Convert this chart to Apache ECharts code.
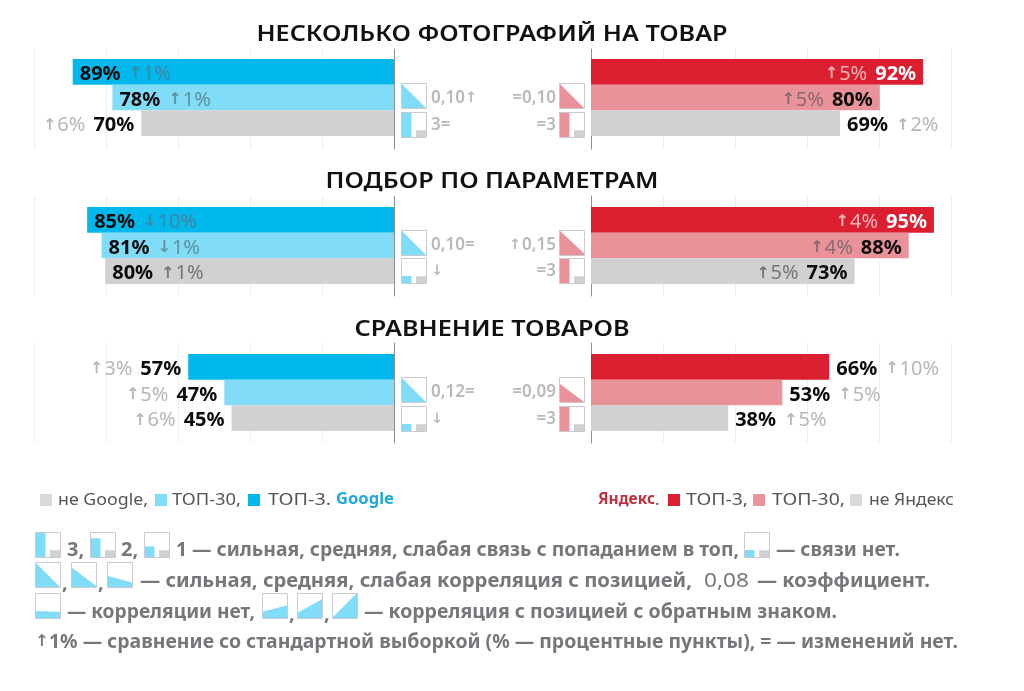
<!DOCTYPE html>
<html><head><meta charset="utf-8">
<style>html,body{margin:0;padding:0;background:#fff}#c{width:1024px;height:691px}</style>
<script src="https://cdn.jsdelivr.net/npm/echarts@6/dist/echarts.min.js"></script>
</head><body><div id="c"></div>
<script>
const FONT = '"Noto Sans","Open Sans",sans-serif';
const ARROW_FONT = '"DejaVu Sans",sans-serif';
const panelTitles = ['НЕСКОЛЬКО ФОТОГРАФИЙ НА ТОВАР', 'ПОДБОР ПО ПАРАМЕТРАМ', 'СРАВНЕНИЕ ТОВАРОВ'];
const categories = ['ТОП-3', 'ТОП-30', 'не в поиске'];
const googleValues = [[89, 78, 70], [85, 81, 80], [57, 47, 45]];
const yandexValues = [[92, 80, 69], [95, 88, 73], [66, 53, 38]];
const googleDeltas = [['↑1%', '↑1%', '↑6%'], ['↓10%', '↓1%', '↑1%'], ['↑3%', '↑5%', '↑6%']];
const yandexDeltas = [['↑5%', '↑5%', '↑2%'], ['↑4%', '↑4%', '↑5%'], ['↑10%', '↑5%', '↑5%']];
const googleInside = [[true, true, false], [true, true, true], [false, false, false]];
const yandexInside = [[true, true, false], [true, true, true], [false, false, false]];
const googleColors = ['#00b8ec', '#80dcf7', '#d2d1d2'];
const yandexColors = ['#dc1f30', '#ea929a', '#d2d1d2'];
const googleCorr = ['0,10↑', '0,10=', '0,12='];
const yandexCorr = ['=0,10', '↑0,15', '=0,09'];
const googleLink = ['3=', '↓', '↓'];
const yandexLink = ['=3', '=3', '=3'];
const googleLinkLevel = [3, 0, 0];
const yandexLinkLevel = [3, 3, 3];
const googleCorrShape = [[0, 1], [0, 1], [0, 1]];
const yandexCorrShape = [[0, 1], [0, .93], [.25, 1]];
const titleWidths = [471, 333, 275];

const barTops = [59, 207, 354], backTops = [49, 196, 343], titleMid = [34.5, 181.5, 329.5];
const iconRows = [[83, 112], [230, 258], [377, 406]];
const grids = [], xAxes = [], yAxes = [], series = [], els = [];

const ctx = document.createElement('canvas').getContext('2d');
const isArrow = c => c === '↑' || c === '↓';
function measure(t, size, weight, fam) { ctx.font = `${weight} ${size}px ${fam}`; return ctx.measureText(t).width; }
function put(text, x, midY, s, size, weight, fill, fam) {
  els.push({ type: 'text', x, y: midY, scaleX: s, silent: true, z: 5,
    style: { text, x: 0, y: 0, fontFamily: fam || FONT, fontSize: size, fontWeight: weight, fill, textVerticalAlign: 'middle' } });
}
function fit(text, x, midY, width, size, weight, fill) {
  put(text, x, midY, width ? width / measure(text, size, weight, FONT) : 1, size, weight, fill);
}
// a short mark such as 0,10↑ with its arrow in a heavier glyph
function mark(text, x, midY, size, fill, alignRight) {
  const parts = text.split(/([↑↓])/).filter(Boolean);
  const w = p => isArrow(p) ? measure(p, size * .85, 700, ARROW_FONT) + 1 : measure(p, size, 600, FONT);
  let cx = alignRight ? x - parts.reduce((a, p) => a + w(p), 0) : x;
  parts.forEach(p => {
    if (isArrow(p)) put(p, cx, midY, 1, size * .85, 700, fill, ARROW_FONT);
    else put(p, cx, midY, 1, size, 600, fill);
    cx += w(p);
  });
}
function box(x, y, s = 25) {
  els.push({ type: 'rect', silent: true, z: 3, shape: { x: x + .5, y: y + .5, width: s, height: s }, style: { fill: 'none', stroke: '#c9c9cf', lineWidth: 1 } });
}
function corrIcon(x, y, color, a, b, s = 25) {
  els.push({ type: 'polygon', silent: true, z: 2, shape: { points: [[x, y + a * s], [x + s, y + b * s], [x + s, y + s], [x, y + s]] }, style: { fill: color } });
  box(x, y, s);
}
function linkIcon(x, y, color, level, s = 25) {
  const h = [.28, .42, .75, 1][level];
  els.push({ type: 'rect', silent: true, z: 2, shape: { x, y: y + s * (1 - h), width: s * .42, height: s * h }, style: { fill: color } });
  els.push({ type: 'rect', silent: true, z: 2, shape: { x: x + s * .6, y: y + s * .73, width: s * .4, height: s * .27 }, style: { fill: '#d2d1d2' } });
  box(x, y, s);
}
function square(x, color) { els.push({ type: 'rect', silent: true, shape: { x, y: 494, width: 12, height: 12 }, style: { fill: color } }); }

const deltaColors = { out: '#b7b7b7', b: '#3f84a3', lb: '#5f929f', g: '#777777', w: '#f2b3b8', lr: '#8a6a70' };
const rich = {
  p: { fontFamily: FONT, fontSize: 20, fontWeight: 700, color: '#0c0c0c' },
  pw: { fontFamily: FONT, fontSize: 20, fontWeight: 700, color: '#ffffff' },
  gap: { width: 8, fontSize: 10 }
};
Object.keys(deltaColors).forEach(k => {
  rich[k] = { fontFamily: FONT, fontSize: 20, color: deltaColors[k] };
  rich['a' + k] = { fontFamily: ARROW_FONT, fontSize: 16, fontWeight: 700, color: deltaColors[k], padding: [0, 1, 0, 0] };
});
function label(pct, delta, inside, side, tone) {
  const c = inside ? tone : 'out';
  const d = `{a${c}|${delta[0]}}{${c}|${delta.slice(1)}}`;
  const p = `{${inside && tone === 'w' ? 'pw' : 'p'}|${pct}%}`;
  const text = (side === 'L') === inside ? `${p}{gap| }${d}` : `${d}{gap| }${p}`;
  return {
    show: true, distance: 7, offset: [0, 2.5], formatter: text, rich,
    position: side === 'L' ? (inside ? 'insideLeft' : 'left') : (inside ? 'insideRight' : 'right')
  };
}

function panel(i, side) {
  const L = side === 'L';
  const values = (L ? googleValues : yandexValues)[i];
  const deltas = (L ? googleDeltas : yandexDeltas)[i];
  const inside = (L ? googleInside : yandexInside)[i];
  const colors = L ? googleColors : yandexColors;
  // back grid: gridlines and zero line, taller than the bars
  let g = grids.length;
  grids.push({ left: L ? 34 : 591, width: 360, top: backTops[i], height: 100 });
  xAxes.push({ gridIndex: g, type: 'value', min: 0, max: 100, interval: 20, inverse: L, show: true,
    axisLabel: { show: false }, axisTick: { show: false }, axisLine: { show: false },
    splitLine: { show: true, lineStyle: { color: '#eeeeee', width: 1 } } });
  yAxes.push({ gridIndex: g, type: 'category', data: [''], axisLabel: { show: false }, axisTick: { show: false },
    axisLine: { show: true, onZero: true, lineStyle: { color: '#8f8f8f', width: 1 } } });
  series.push({ type: 'bar', xAxisIndex: g, yAxisIndex: g, data: [], silent: true });
  // bar grid
  g = grids.length;
  grids.push({ left: L ? 33 : 591, width: 361, top: barTops[i], height: 77 });
  xAxes.push({ gridIndex: g, type: 'value', min: 0, max: 100, interval: 20, inverse: L, show: false });
  yAxes.push({ gridIndex: g, type: 'category', inverse: true, data: categories, show: false });
  series.push({
    type: 'bar', name: (L ? 'Google ' : 'Яндекс ') + panelTitles[i], xAxisIndex: g, yAxisIndex: g, barWidth: '100%', barCategoryGap: 0, silent: true, animation: false, z: 3,
    data: values.map((v, k) => {
      const tone = L ? ['b', 'lb', 'g'][k] : ['w', 'lr', 'g'][k];
      return { value: v, itemStyle: { color: colors[k] }, label: label(v, deltas[k], inside[k], side, tone) };
    })
  });
}

panelTitles.forEach((t, i) => {
  fit(t, 492 - titleWidths[i] / 2, titleMid[i], titleWidths[i], 22, 600, '#111111');
  panel(i, 'L'); panel(i, 'R');
  const [r1, r2] = iconRows[i];
  const gc = googleColors[1], yc = yandexColors[1], tc = '#b9b9b9';
  corrIcon(401, r1, gc, googleCorrShape[i][0], googleCorrShape[i][1]);
  linkIcon(401, r2, gc, googleLinkLevel[i]);
  corrIcon(559, r1, yc, yandexCorrShape[i][0], yandexCorrShape[i][1]);
  linkIcon(559, r2, yc, yandexLinkLevel[i]);
  mark(googleCorr[i], 431, r1 + 15, 17, tc);
  mark(googleLink[i], 431, r2 + 13, 17, tc);
  mark(yandexCorr[i], 556, r1 + 15, 17, tc, true);
  mark(yandexLink[i], 556, r2 + 13, 17, tc, true);
});

// legends
const lt = '#555555';
square(40, '#d9d9d9'); fit('не Google,', 58, 500, 90, 17, 400, lt);
square(155, googleColors[1]); fit('ТОП-30,', 172, 500, 69, 17, 400, lt);
square(248, googleColors[0]); fit('ТОП-3.', 268, 500, 63, 17, 400, lt);
fit('Google', 336, 500, 58, 15.5, 700, '#1fa9d6');
fit('Яндекс', 598, 500, 57, 15.5, 700, '#c0303f'); fit('.', 655, 500, 0, 17, 400, lt);
square(668, yandexColors[0]); fit('ТОП-3,', 686, 500, 62, 17, 400, lt);
square(753, yandexColors[1]); fit('ТОП-30,', 772, 500, 73, 17, 400, lt);
square(850, '#d9d9d9'); fit('не Яндекс', 869, 500, 85, 17, 400, lt);

// notes
const nt = '#77777b', ns = 20, blue = googleColors[1];
linkIcon(35, 532, blue, 3); fit('3,', 67, 550, 0, ns, 700, nt);
linkIcon(90, 532, blue, 2); fit('2,', 121, 550, 0, ns, 700, nt);
linkIcon(144, 532, blue, 1);
fit('1 — сильная, средняя, слабая связь с попаданием в топ,', 176, 550, 563, ns, 700, nt);
linkIcon(744, 532, blue, 0); fit('— связи нет.', 776, 550, 124, ns, 700, nt);

corrIcon(35, 562, blue, 0, 1); fit(',', 62, 583, 0, ns, 700, nt);
corrIcon(71, 562, blue, .2, .95); fit(',', 98, 583, 0, ns, 700, nt);
corrIcon(107, 562, blue, .55, .82);
fit('— сильная, средняя, слабая корреляция с позицией,', 140, 581, 552, ns, 700, nt);
fit('0,08', 704, 581, 45, ns, 400, nt);
fit('— коэффициент.', 757, 581, 173, ns, 700, nt);

corrIcon(35, 593, blue, .72, .75); fit('— корреляции нет,', 67, 612, 188, ns, 700, nt);
corrIcon(262, 593, blue, .75, .5); fit(',', 289, 614, 0, ns, 700, nt);
corrIcon(297, 593, blue, .8, .25); fit(',', 324, 614, 0, ns, 700, nt);
corrIcon(332, 593, blue, 1, 0);
fit('— корреляция с позицией с обратным знаком.', 364, 612, 473, ns, 700, nt);
put('↑', 35, 642, 1, 16, 700, nt, ARROW_FONT);
fit('1% — сравнение со стандартной выборкой (% — процентные пункты), = — изменений нет.', 49, 642, 909, ns, 700, nt);

const chart = echarts.init(document.getElementById('c'), null, { renderer: 'canvas' });
chart.setOption({
  animation: false, backgroundColor: '#ffffff',
  grid: grids, xAxis: xAxes, yAxis: yAxes, series, graphic: { elements: els }
});
</script></body></html>
